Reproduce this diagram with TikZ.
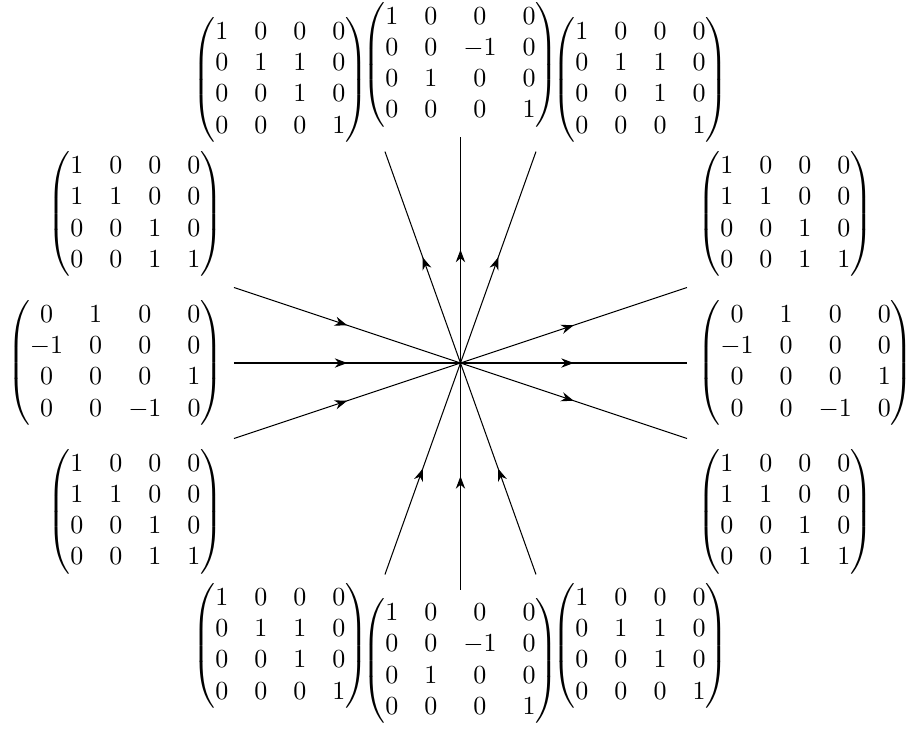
\documentclass[tikz,border=0pt]{standalone}
\usepackage{amsmath}
\usepackage{tikz}
\usetikzlibrary{arrows.meta,calc,decorations.markings}
\newcommand{\shearTB}{$\begin{pmatrix}1&0&0&0\\0&1&1&0\\0&0&1&0\\0&0&0&1\end{pmatrix}$}
\newcommand{\rotTB}{$\begin{pmatrix}1&0&0&0\\0&0&-1&0\\0&1&0&0\\0&0&0&1\end{pmatrix}$}
\newcommand{\shearLR}{$\begin{pmatrix}1&0&0&0\\1&1&0&0\\0&0&1&0\\0&0&1&1\end{pmatrix}$}
\newcommand{\rotLR}{$\begin{pmatrix}0&1&0&0\\-1&0&0&0\\0&0&0&1\\0&0&-1&0\end{pmatrix}$}
\newcommand{\armLen}{3}
\newcommand{\slant}{2.8}

\begin{document}
\begin{tikzpicture}[
  x=1.02cm, y=1.02cm,
  flow/.style={
    postaction={decorate},
    decoration={markings, mark=at position 0.5 with {\arrow{Stealth}}}
  },
  gen/.style={inner sep=3.33pt}
]
\useasboundingbox (-6.099,-4.848) rectangle (5.980,4.808);

% ---- end points -----------------------------------------------------------
\coordinate (o)  at (0,0);
\coordinate (n)  at (0,\armLen);
\coordinate (s)  at (0,-\armLen);
\coordinate (w)  at (-\armLen,0);
\coordinate (e)  at (\armLen,0);
\coordinate (nw) at (-1,\slant);
\coordinate (ne) at (1,\slant);
\coordinate (sw) at (-1,-\slant);
\coordinate (se) at (1,-\slant);
\coordinate (wn) at (-\armLen,1);
\coordinate (ws) at (-\armLen,-1);
\coordinate (en) at (\armLen,1);
\coordinate (es) at (\armLen,-1);

% ---- matrices -------------------------------------------------------------
\node[gen, anchor=south]      (mN)  at (n)  {\rotTB};
\node[gen, anchor=south east] (mNW) at ($(nw)+(-0.1,0)$) {\shearTB};
\node[gen, anchor=south west] (mNE) at ($(ne)+(0.1,0)$)  {\shearTB};
\node[gen, anchor=north]      (mS)  at (s)  {\rotTB};
\node[gen, anchor=north east] (mSW) at ($(sw)+(-0.1,0)$) {\shearTB};
\node[gen, anchor=north west] (mSE) at ($(se)+(0.1,0)$)  {\shearTB};
\node[gen, anchor=east] (mW)  at (-3.02,0)     {\rotLR};
\node[gen, anchor=east] (mWN) at (-3.02,1.97)  {\shearLR};
\node[gen, anchor=east] (mWS) at (-3.02,-1.97) {\shearLR};
\node[gen, anchor=west] (mE)  at (3.02,0)      {\rotLR};
\node[gen, anchor=west] (mEN) at (3.02,1.97)   {\shearLR};
\node[gen, anchor=west] (mES) at (3.02,-1.97)  {\shearLR};

% ---- flow lines through the origin ----------------------------------------
\draw[flow] (w) -- (o);  \draw[flow] (o) -- (e);
\draw[flow] (wn) -- (o); \draw[flow] (o) -- (es);
\draw[flow] (ws) -- (o); \draw[flow] (o) -- (en);
\draw[flow] (s) -- (o);  \draw[flow] (o) -- (n);
\draw[flow] (sw) -- (o); \draw[flow] (o) -- (ne);
\draw[flow] (se) -- (o); \draw[flow] (o) -- (nw);

\end{tikzpicture}
\end{document}
